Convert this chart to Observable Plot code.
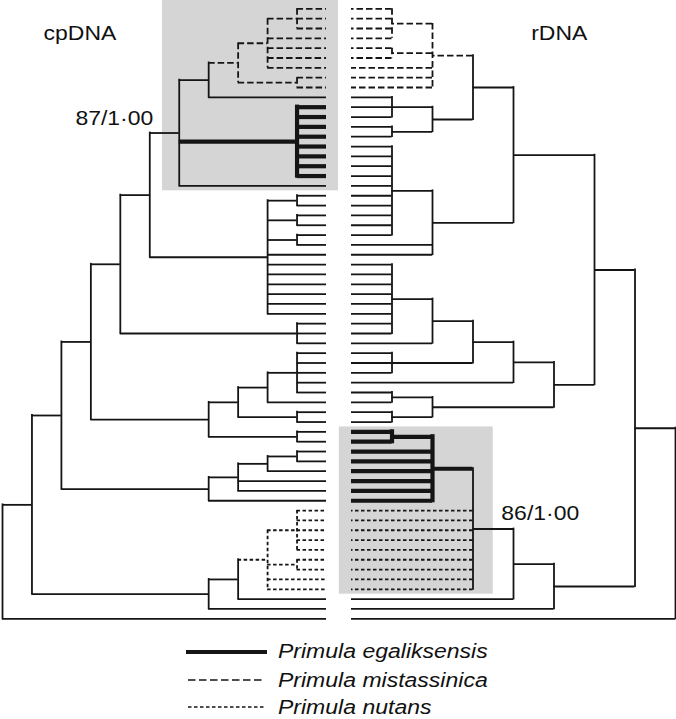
<!DOCTYPE html>
<html>
<head>
<meta charset="utf-8">
<script src="https://cdn.jsdelivr.net/npm/d3@7"></script>
<script src="https://cdn.jsdelivr.net/npm/@observablehq/plot@0.6"></script>
<style>
  html,body{margin:0;padding:0;background:#fff;}
  #fig{width:676px;height:719px;overflow:hidden;}
  #trees{display:flex;width:676px;height:630px;}
  #trees svg{display:block;flex:none;}
  #legend{position:relative;width:676px;height:89px;font-family:"Liberation Sans",Arial,Helvetica,sans-serif;font-style:italic;font-size:19.5px;color:#111;}
  .row{position:absolute;left:186px;height:28px;display:flex;align-items:center;white-space:nowrap;}
  .row svg{display:block;flex:none;}
  .row span{display:inline-block;margin-left:11px;transform:scaleX(1.18);transform-origin:left center;}
</style>
</head>
<body>
<div id="fig"><div id="trees"></div><div id="legend"></div></div>
<script>
// ---------------- DATA ----------------
// 63 specimen rows, numbered top (0) to bottom (62), shared by both trees
const rowCount = 63;

// species membership of the terminal branches (row numbers)
const cpMistassinica = [0,1,2,3,4,5,6,7,8];
const cpEgaliksensis = [10,11,12,13,14,15,16,17];
const cpNutans       = [51,52,53,54,55,56,57,58,59];
const rMistassinica  = [0,1,2,3,4,5,6,7,8];
const rEgaliksensis  = [43,44,45,46,47,48,49,50];
const rNutans        = [51,52,53,54,55,56,57,58,59];

// trees: internal node = [node level, species code ("" = none), ...children]; leaf = row number
// cpDNA: root level 0, tips at level 11
const cpTipLevel = 11;
const cpTree =
[0,"",
  [1,"",
    [2,"",
      [3,"",
        [4,"",
          [5,"",
            [6,"",
              [7,"",
                [8,"m",[9,"m",[10,"m",0,1,2],3,4,5,6],[10,"m",7,8]],
                9],
              [10,"e",10,11,12,13,14,15,16,17],
              18],
            [9,"",[10,"",19,20],[10,"",21,22],[10,"",23,24],25,26,27,28,29,30,31]],
          [10,"",32,33,34]],
        [7,"",[8,"",[9,"",[10,"",35,36,37,38,39],40],[10,"",41,42]],[10,"",43,44]]],
      [7,"",[8,"",[9,"",[10,"",45,46],47],48,49],50]],
    [7,"",[8,"",[9,"n",[10,"n",51,52,53,54,55],[10,"n",56,57],58,59],60],61]],
  62];

// rDNA: tips at level 0, root at level 8
const rTipLevel = 0;
const rTree =
[8,"",
  [7,"",
    [6,"",
      [4,"",
        [3,"",
          [2,"m",[1,"m",0,1,2,3],[1,"m",4,5],6,7,8],
          [2,"",[1,"",9,10,11],[1,"",12,13]]],
        [2,"",[1,"",14,15,16,17,18,19,20,21,22,23],24,25]],
      [5,"",
        [4,"",
          [3,"",
            [2,"",[1,"",26,27,28,29,30,31,32,33],34],
            [1,"",35,36,37]],
          38],
        [2,"",[1,"",39,40],[1,"",41,42]]]],
    [5,"",
      [4,"",
        [3,"",
          [2,"e",[1,"e",43,44],45,46,47,48,49,50],
          51,52,53,54,55,56,57,58,59],
        60],
      61]],
  62];

const treeTitles = ["cpDNA", "rDNA"];
const supportLabels = ["87/1·00", "86/1·00"];
const legendNames = ["Primula egaliksensis", "Primula mistassinica", "Primula nutans"];
const legendCodes = ["e", "m", "n"];

// ---------------- STYLE ----------------
const INK = "#151515";
const GRAY = "#d5d5d5";
const FONT = "'Liberation Sans', Arial, Helvetica, sans-serif";
const STY = {
  "":  {strokeWidth: 1.8},
  e:   {strokeWidth: 4.2},
  m:   {strokeWidth: 1.8, strokeDasharray: "6.5,3"},
  n:   {strokeWidth: 1.8, strokeDasharray: "3.5,2.5"}
};

function speciesOf(m, e, n) {
  return r => m.includes(r) ? "m" : e.includes(r) ? "e" : n.includes(r) ? "n" : "";
}

function layout(tree, tipLevel, sp) {
  const segs = [];
  function walk(node) {
    if (typeof node === "number") return {y: node, x: tipLevel, s: sp(node)};
    const [lv, s, ...kids] = node;
    const ks = kids.map(walk);
    const ys = ks.map(k => k.y);
    const y1 = d3.min(ys), y2 = d3.max(ys);
    segs.push({kind: "v", x1: lv, x2: lv, y1, y2, s});
    for (const k of ks) segs.push({kind: "h", x1: lv, x2: k.x, y1: k.y, y2: k.y, s: k.s});
    return {y: (y1 + y2) / 2, x: lv, s};
  }
  walk(tree);
  return segs;
}

function treeMarks(segs) {
  const marks = [];
  for (const s of ["", "m", "n", "e"]) {
    const st = STY[s];
    const solid = !st.strokeDasharray;
    marks.push(Plot.ruleX(segs.filter(d => d.kind === "v" && d.s === s), {
      x: "x1", y1: "y1", y2: "y2", stroke: INK, strokeWidth: st.strokeWidth,
      strokeDasharray: st.strokeDasharray, strokeLinecap: solid ? "square" : "butt"
    }));
    marks.push(Plot.ruleY(segs.filter(d => d.kind === "h" && d.s === s), {
      y: "y1", x1: "x1", x2: "x2", stroke: INK, strokeWidth: st.strokeWidth,
      strokeDasharray: st.strokeDasharray, strokeLinecap: "butt"
    }));
  }
  return marks;
}

const cpSegs = layout(cpTree, cpTipLevel, speciesOf(cpMistassinica, cpEgaliksensis, cpNutans));
const rSegs  = layout(rTree, rTipLevel, speciesOf(rMistassinica, rEgaliksensis, rNutans));

const common = {
  height: 630, marginTop: 8.3, marginBottom: 11.7,
  y: {domain: [0, rowCount - 1], reverse: true, axis: null},
  style: {background: "transparent", overflow: "visible"}
};

const left = Plot.plot({
  ...common,
  width: 338, marginLeft: 2, marginRight: 12,
  x: {domain: [0, cpTipLevel], axis: null},
  marks: [
    Plot.rect([0], {x1: 5.43, x2: 11.41, y1: -0.85, y2: 18.5, fill: GRAY}),
    ...treeMarks(cpSegs),
    Plot.text([treeTitles[0]], {x: 2.63, y: 3.15, text: d => d, textAnchor: "middle", lineAnchor: "bottom", fontSize: 20.5, fontFamily: FONT, fill: "#111"}),
    Plot.text([supportLabels[0]], {x: 5.12, y: 11.86, text: d => d, textAnchor: "end", lineAnchor: "bottom", fontSize: 20.5, fontFamily: FONT, fill: "#111"})
  ]
});

const right = Plot.plot({
  ...common,
  width: 338, marginLeft: 13, marginRight: 1,
  x: {domain: [0, 8], axis: null},
  marks: [
    Plot.rect([0], {x1: -0.30, x2: 3.50, y1: 42.5, y2: 59.5, fill: GRAY}),
    ...treeMarks(rSegs),
    Plot.text([treeTitles[1]], {x: 5.13, y: 3.15, text: d => d, textAnchor: "middle", lineAnchor: "bottom", fontSize: 20.5, fontFamily: FONT, fill: "#111"}),
    Plot.text([supportLabels[1]], {x: 3.70, y: 52.0, text: d => d, textAnchor: "start", lineAnchor: "bottom", fontSize: 20.5, fontFamily: FONT, fill: "#111"})
  ]
});

const trees = document.getElementById("trees");
trees.appendChild(left);
trees.appendChild(right);

// Helvetica-like glyphs in the original are slightly wider: stretch horizontally
document.querySelectorAll("#trees text").forEach(t => {
  const w = t.getComputedTextLength();
  t.setAttribute("textLength", (w * 1.12).toFixed(1));
  t.setAttribute("lengthAdjust", "spacingAndGlyphs");
});

// legend
const legend = document.getElementById("legend");
const legendTops = [7.7, 36, 63.3];
const legendDash = {e: null, m: "7.5,3.5", n: "3.5,2.5"};
legendNames.forEach((name, i) => {
  const code = legendCodes[i];
  const row = document.createElement("div");
  row.className = "row";
  row.style.top = legendTops[i] + "px";
  const w = code === "e" ? 4.2 : 1.7;
  const x0 = code === "e" ? 0 : 2, x1 = code === "e" ? 81 : 79;
  row.innerHTML =
    `<svg width="81" height="28"><line x1="${x0}" x2="${x1}" y1="14" y2="14" stroke="${INK}" stroke-width="${w}"` +
    (legendDash[code] ? ` stroke-dasharray="${legendDash[code]}"` : "") + `/></svg><span>${name}</span>`;
  legend.appendChild(row);
});
</script>
</body>
</html>
